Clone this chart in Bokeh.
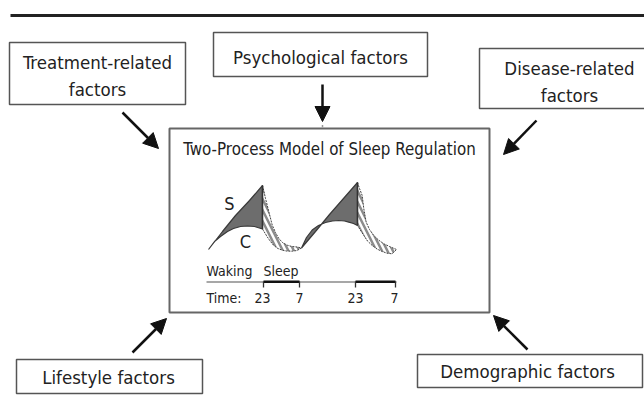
from bokeh.plotting import figure
from bokeh.models import Range1d, Arrow, NormalHead
from bokeh.core.properties import value
from bokeh.embed import file_html
from bokeh.resources import INLINE

FONT = "DejaVu Sans Condensed, Roboto Condensed, Roboto"

# ---- factor boxes ----
box_names = ["Treatment-related factors", "Psychological factors", "Disease-related factors",
             "Lifestyle factors", "Demographic factors"]
box_left = [9, 213, 479, 16, 417]
box_right = [185, 427, 660, 202, 642]
box_top = [42, 32, 48, 359, 354]
box_bottom = [104, 76, 108, 393, 387]

line_text = ["Treatment-related", "factors", "Psychological factors", "Disease-related",
             "factors", "Lifestyle factors", "Demographic factors"]
line_x = [97, 97, 320, 569, 569, 108, 527]
line_y = [62, 89, 57, 68, 94.5, 377, 370.5]

# ---- arrows (start -> end) ----
arrow_x0 = [122, 322, 536, 132, 527]
arrow_y0 = [112, 84, 120, 352, 349]
arrow_x1 = [158, 322, 503, 166, 493]
arrow_y1 = [148, 121, 154, 318, 315]

# ---- central model box ----
model_title = "Two-Process Model of Sleep Regulation"
model_box = (169, 489, 128, 312)

# ---- Process S / Process C curves (two 24 h cycles) ----
s_rise1_x = [208, 222, 235, 249, 262]
s_rise1_y = [249, 231, 215, 200, 185]
c_rise1_x = [208, 214, 220, 227, 233, 240, 247, 254, 262]
c_rise1_y = [249, 241, 236, 231, 228, 226, 225.5, 226, 228.5]
s_fall1_x = [262, 263.5, 265, 268.3, 271.7, 275, 278.3, 282, 286.7, 291.5, 296.7, 301]
s_fall1_y = [185, 191, 198, 211, 224.5, 232, 238, 242, 244.7, 246, 246.5, 247.5]
c_fall1_x = [262, 266.7, 270, 273, 277, 281.7, 286.5, 291.7, 296.5, 301]
c_fall1_y = [228.5, 236.3, 241, 244.7, 247.8, 249.7, 250.6, 250.7, 250, 247.5]

s_rise2_x = [301, 315, 329, 343, 357]
s_rise2_y = [247.5, 231, 214, 198, 182]
c_rise2_x = [301, 306, 311.7, 318, 325, 332, 338.3, 344, 348.3, 353, 357]
c_rise2_y = [247.5, 237, 229.5, 225, 222, 220.5, 220, 220.5, 221.7, 223, 225]
s_fall2_x = [357, 359, 361.7, 363.3, 365.7, 369, 373.3, 378, 383.3, 389, 396]
s_fall2_y = [182, 188, 195, 208.3, 221.7, 229, 235, 239.5, 243.3, 246, 249]
c_fall2_x = [357, 363.3, 367, 371.7, 376.5, 381.7, 386.5, 391.7, 396]
c_fall2_y = [225, 235, 240.5, 245, 248.5, 251, 252.7, 253.3, 249]

# ---- time axis ----
phase_labels = ["Waking", "Sleep"]
phase_x = [206, 263]
sleep_start = [263, 355]
sleep_end = [299, 395]
time_labels = ["23", "7", "23", "7"]
time_x = [262, 299, 355, 394]

p = figure(width=644, height=400, x_range=Range1d(0, 644), y_range=Range1d(400, 0),
           output_backend="svg", toolbar_location=None, min_border=0)
p.axis.visible = False
p.grid.visible = False
p.outline_line_color = None
p.background_fill_color = "white"
p.border_fill_color = "white"

# top rule
p.line([10, 644], [15, 15], line_color="#222222", line_width=3)

# factor boxes
p.quad(left=box_left, right=box_right, top=box_top, bottom=box_bottom,
       fill_color="white", line_color="#555555", line_width=1.5)
p.text(x=line_x, y=line_y, text=line_text, text_font=value(FONT), text_font_size="18.5px",
       text_align="center", text_baseline="middle", text_color="#222222")

# model box
l, r, t, b = model_box
p.quad(left=[l], right=[r], top=[t], bottom=[b], fill_color="white",
       line_color="#666666", line_width=2)
p.text(x=[(l + r) / 2], y=[148], text=[model_title], text_font=value(FONT),
       text_font_size="16.8px", text_align="center", text_baseline="middle", text_color="#222222")
p.segment(x0=[322], y0=[124.5], x1=[322], y1=[127], line_color="#999999", line_width=1.5)

# arrows
for x0, y0, x1, y1 in zip(arrow_x0, arrow_y0, arrow_x1, arrow_y1):
    p.add_layout(Arrow(x_start=x0, y_start=y0, x_end=x1, y_end=y1, line_width=2.5,
                       line_color="#111111",
                       end=NormalHead(size=15, fill_color="#111111", line_color="#111111",
                                      line_width=1)))

# Process S rise over Process C (solid dark)
for sx, sy, cx, cy in [(s_rise1_x, s_rise1_y, c_rise1_x, c_rise1_y),
                       (s_rise2_x, s_rise2_y, c_rise2_x, c_rise2_y)]:
    p.patch(sx + cx[::-1], sy + cy[::-1], fill_color="#6d6d6d", line_color="#3a3a3a",
            line_width=1.2)
# Process S decline during sleep (hatched)
for sx, sy, cx, cy in [(s_fall1_x, s_fall1_y, c_fall1_x, c_fall1_y),
                       (s_fall2_x, s_fall2_y, c_fall2_x, c_fall2_y)]:
    p.patch(sx + cx[::-1], sy + cy[::-1], fill_color="white", hatch_pattern="\\",
            hatch_color="#8c8c8c", hatch_weight=2.5, hatch_scale=11,
            line_color="#444444", line_width=1, line_dash="2 1")
    p.line([sx[0], cx[0]], [sy[0], cy[0]], line_color="#333333", line_width=1.5)

p.text(x=[229, 245], y=[203, 241], text=["S", "C"], text_font=value(FONT),
       text_font_size="18px", text_align="center", text_baseline="middle", text_color="#222222")

# time axis
p.text(x=phase_x, y=[270, 270], text=phase_labels, text_font=value(FONT), text_font_size="14px",
       text_align="left", text_baseline="middle", text_color="#222222")
p.line([206, 396], [281.5, 281.5], line_color="#8a8a8a", line_width=1.5)
p.segment(x0=sleep_start, y0=[281.2] * 2, x1=sleep_end, y1=[281.2] * 2,
          line_color="#111111", line_width=2.5)
p.segment(x0=sleep_start + sleep_end, y0=[281] * 4, x1=sleep_start + sleep_end, y1=[287] * 4,
          line_color="#333333", line_width=1.3)
p.text(x=[206], y=[297], text=["Time:"], text_font=value(FONT), text_font_size="14px",
       text_align="left", text_baseline="middle", text_color="#222222")
p.text(x=time_x, y=[297] * 4, text=time_labels, text_font=value(FONT), text_font_size="14px",
       text_align="center", text_baseline="middle", text_color="#222222")

open("out.html", "w").write(file_html(p, INLINE))
